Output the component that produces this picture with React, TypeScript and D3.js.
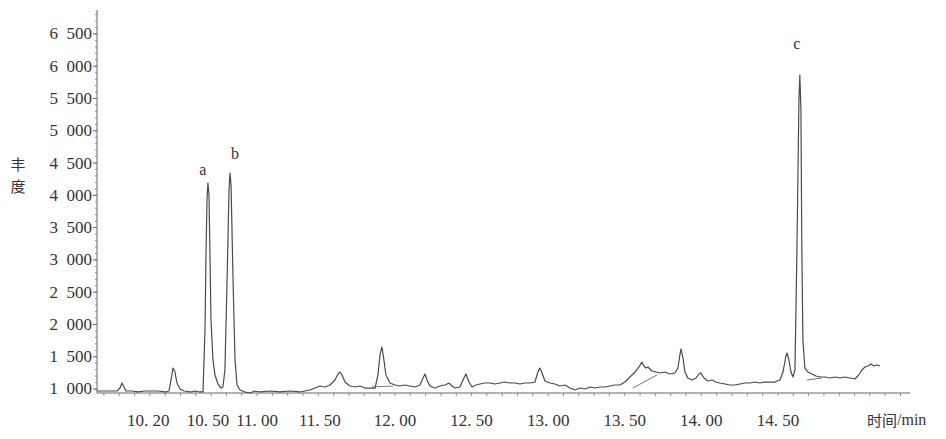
import * as d3 from 'd3'
import { useMemo } from 'react'

// chromatogram trace: [retention time (min), abundance]
const trace: [number, number][] = [
  [10.055, 969], [10.14, 969], [10.186, 969], [10.205, 1015], [10.218, 1093], [10.231, 1031], [10.244, 969],
  [10.283, 969], [10.323, 954], [10.368, 969], [10.414, 969], [10.453, 969], [10.499, 954], [10.525, 969],
  [10.538, 1139], [10.551, 1325], [10.564, 1263], [10.577, 1093], [10.597, 1000], [10.623, 969], [10.662, 954],
  [10.695, 969], [10.727, 954], [10.747, 954],
  [10.76, 1914], [10.766, 2998], [10.773, 3928], [10.779, 4191], [10.786, 4005], [10.793, 2998], [10.799, 2069],
  [10.812, 1449], [10.825, 1217], [10.845, 1077], [10.864, 1015], [10.877, 1031], [10.89, 1294], [10.904, 2688],
  [10.917, 4083], [10.923, 4346], [10.93, 4160], [10.943, 2688], [10.956, 1449], [10.969, 1062], [10.988, 985],
  [11.021, 954], [11.054, 938], [11.086, 969], [11.119, 954], [11.184, 969], [11.249, 954], [11.315, 969],
  [11.38, 954], [11.445, 985], [11.478, 1015], [11.511, 1046], [11.543, 1031], [11.576, 1062], [11.608, 1139],
  [11.628, 1232], [11.641, 1263], [11.654, 1217], [11.674, 1108], [11.706, 1046], [11.739, 1031], [11.772, 1046],
  [11.804, 1015], [11.837, 1015], [11.87, 1015], [11.889, 1217], [11.902, 1527], [11.915, 1651], [11.928, 1449],
  [11.941, 1217], [11.967, 1093], [12.0, 1062], [12.033, 1046], [12.065, 1062], [12.098, 1046], [12.131, 1031],
  [12.163, 1062], [12.183, 1170], [12.196, 1232], [12.209, 1139], [12.228, 1046], [12.261, 1015], [12.294, 1046],
  [12.326, 1062], [12.353, 1093], [12.372, 1046], [12.392, 1015], [12.424, 1031], [12.444, 1139], [12.463, 1232],
  [12.483, 1108], [12.503, 1031], [12.529, 1062], [12.555, 1077], [12.587, 1093], [12.62, 1093], [12.653, 1077],
  [12.685, 1093], [12.718, 1108], [12.751, 1093], [12.783, 1093], [12.816, 1077], [12.849, 1093], [12.881, 1093],
  [12.914, 1108], [12.933, 1263], [12.946, 1325], [12.96, 1248], [12.979, 1124], [13.012, 1093], [13.044, 1077],
  [13.077, 1046], [13.11, 1062], [13.142, 1015], [13.175, 985], [13.208, 1015], [13.24, 1000], [13.273, 1031],
  [13.305, 1015], [13.338, 1031], [13.371, 1031], [13.403, 1046], [13.436, 1062], [13.469, 1062], [13.501, 1108],
  [13.534, 1186], [13.567, 1263], [13.593, 1341], [13.612, 1418], [13.625, 1356], [13.638, 1325], [13.651, 1341],
  [13.677, 1279], [13.704, 1263], [13.73, 1248], [13.762, 1263], [13.795, 1232], [13.828, 1248], [13.847, 1325],
  [13.86, 1527], [13.867, 1620], [13.88, 1480], [13.893, 1263], [13.912, 1170], [13.939, 1139], [13.965, 1170],
  [13.984, 1232], [13.997, 1248], [14.017, 1170], [14.043, 1124], [14.069, 1139], [14.095, 1108], [14.121, 1093],
  [14.154, 1077], [14.187, 1062], [14.219, 1062], [14.252, 1077], [14.284, 1093], [14.317, 1093], [14.35, 1108],
  [14.382, 1093], [14.415, 1108], [14.448, 1108], [14.48, 1108], [14.513, 1139], [14.533, 1263], [14.552, 1511],
  [14.559, 1558], [14.572, 1449], [14.585, 1263], [14.598, 1186], [14.611, 1294], [14.624, 3153], [14.637, 5477],
  [14.643, 5864], [14.65, 5322], [14.656, 3153], [14.663, 1759], [14.676, 1325], [14.696, 1263], [14.722, 1232],
  [14.748, 1201], [14.774, 1186], [14.807, 1186], [14.839, 1170], [14.872, 1186], [14.905, 1170], [14.937, 1186],
  [14.97, 1170], [15.002, 1155], [15.022, 1201], [15.048, 1294], [15.068, 1341], [15.087, 1356], [15.107, 1387],
  [15.126, 1356], [15.146, 1372], [15.166, 1356]
]

// integration baselines drawn under some peaks
const baselines: [number, number][][] = [
  [[11.85, 1031], [11.987, 1046]],
  [[13.553, 1015], [13.71, 1217]],
  [[14.689, 1139], [14.787, 1170]]
]

const peakNames = ['a', 'b', 'c']
const peakTimes = [10.779, 10.923, 14.643]
const peakValues = [4191, 4346, 5864]

const yTicks = [1000, 1500, 2000, 2500, 3000, 3500, 4000, 4500, 5000, 5500, 6000, 6500]
const xTickLabels = ['10. 20', '10. 50', '11. 00', '11. 50', '12. 00', '12. 50', '13. 00', '13. 50', '14. 00', '14. 50']
const xTickTimes = [10.39, 10.78, 11.1, 11.51, 12.0, 12.5, 13.0, 13.5, 14.0, 14.5]

const serif = '"Liberation Serif", "DejaVu Serif", serif'
const cjk = '"Noto Sans CJK SC", sans-serif'

const App = () => {
  const svgWidth = 946
  const svgHeight = 439
  const left = 97
  const right = 910
  const top = 10
  const bottom = 393

  const x = useMemo(() => d3.scaleLinear().domain([10.055, 15.362]).range([left, right]), [])
  const y = useMemo(() => d3.scaleLinear().domain([938, 6871]).range([bottom, top]), [])

  const line = d3.line<[number, number]>().x(d => x(d[0])).y(d => y(d[1]))

  const minorX = d3.range(10.1, 15.35, 0.1)
  const minorY = d3.range(1000, 6850, 100)

  const labelOffsets = [[-5, -14], [5, -19], [-3, -32]]

  return (
    <svg width={svgWidth} height={svgHeight} style={{ position: 'absolute', left: 0, top: 0, background: '#fff' }}>
      {/* y axis */}
      <line x1={left} x2={left} y1={top} y2={bottom} stroke='#666' strokeWidth={1} />
      {minorY.map((v, i) => (
        <line key={'my' + i} x1={left - 2} x2={left} y1={y(v)} y2={y(v)} stroke='#777' strokeWidth={0.8} />
      ))}
      {yTicks.map(v => (
        <g key={'yt' + v}>
          <line x1={left - 4} x2={left} y1={y(v)} y2={y(v)} stroke='#666' strokeWidth={1} />
          <text
            x={left - 5}
            y={y(v)}
            textAnchor='end'
            dominantBaseline='central'
            fontFamily={serif}
            fontSize={17}
            fill='#333'
          >
            {`${Math.floor(v / 1000)}\u2002${String(v % 1000).padStart(3, '0')}`}
          </text>
        </g>
      ))}
      <text x={18} y={163} textAnchor='middle' dominantBaseline='central' fontFamily={cjk} fontSize={15} fill='#333'>丰</text>
      <text x={18} y={185} textAnchor='middle' dominantBaseline='central' fontFamily={cjk} fontSize={15} fill='#333'>度</text>

      {/* x axis */}
      <line x1={left} x2={right} y1={bottom} y2={bottom} stroke='#666' strokeWidth={1} />
      {minorX.map((t, i) => (
        <line key={'mx' + i} x1={x(t)} x2={x(t)} y1={bottom} y2={bottom + 3} stroke='#777' strokeWidth={0.8} />
      ))}
      {xTickLabels.map((label, i) => (
        <text
          key={'xt' + i}
          x={x(xTickTimes[i])}
          y={420}
          textAnchor='middle'
          dominantBaseline='central'
          fontFamily={serif}
          fontSize={17}
          fill='#333'
        >
          {label}
        </text>
      ))}
      <text x={867} y={419} dominantBaseline='central' fontSize={15} fill='#333'>
        <tspan fontFamily={cjk}>时间</tspan>
        <tspan fontFamily={serif} fontSize={16}>/min</tspan>
      </text>

      {/* integration baselines */}
      {baselines.map((seg, i) => (
        <path key={'bl' + i} d={line(seg) ?? ''} fill='none' stroke='#777' strokeWidth={1} />
      ))}

      {/* trace */}
      <path d={line(trace) ?? ''} fill='none' stroke='#4a4a4a' strokeWidth={1.2} strokeLinejoin='round' />

      {/* peak labels */}
      {peakNames.map((name, i) => (
        <text
          key={'pk' + name}
          x={x(peakTimes[i]) + labelOffsets[i][0]}
          y={y(peakValues[i]) + labelOffsets[i][1]}
          textAnchor='middle'
          dominantBaseline='central'
          fontFamily={serif}
          fontSize={16}
          fill='#333'
        >
          {name}
        </text>
      ))}
    </svg>
  )
}

export default App
